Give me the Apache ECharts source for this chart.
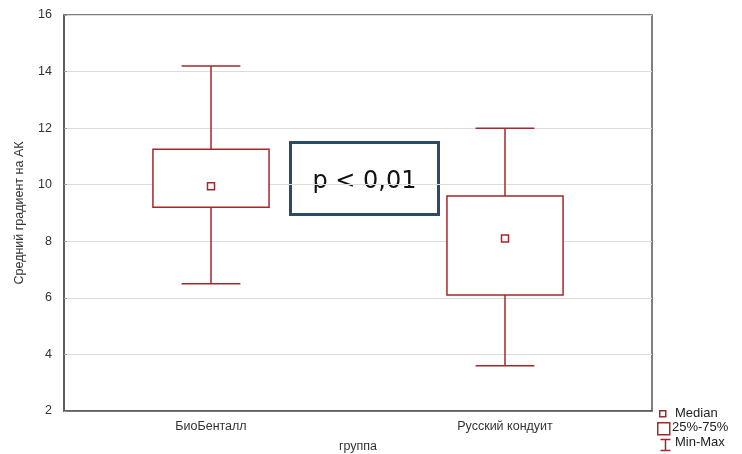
<!DOCTYPE html>
<html><head><meta charset="utf-8">
<script src="https://cdn.jsdelivr.net/npm/echarts@6/dist/echarts.min.js"></script>
<style>html,body{margin:0;padding:0;background:#fff;overflow:hidden}#c{width:742px;height:454px}</style>
</head><body><div id="c"></div>
<script>
const categories = ['БиоБенталл', 'Русский кондуит'];
const minVals = [6.5, 3.6];
const q1Vals = [9.2, 6.1];
const medianVals = [9.95, 8.1];
const q3Vals = [11.25, 9.6];
const maxVals = [14.2, 12.0];
const yTicks = [2, 4, 6, 8, 10, 12, 14, 16];
const pText = 'p < 0,01';
const legendLabels = ['Median', '25%-75%', 'Min-Max'];

const red = '#a3272b';
const boxData = categories.map((c, i) => [i, minVals[i], q1Vals[i], q3Vals[i], maxVals[i]]);

const chart = echarts.init(document.getElementById('c'), null, { width: 742, height: 454 });
chart.setOption({
  animation: false,
  grid: { left: 64, width: 588, top: 15, height: 396, outerBoundsMode: 'none', containLabel: false, show: true, borderColor: '#555', borderWidth: 1.5, backgroundColor: 'transparent' },
  xAxis: {
    type: 'category', data: categories, boundaryGap: true,
    name: 'группа', nameLocation: 'middle', nameGap: 29,
    nameTextStyle: { fontFamily: 'Liberation Sans', fontSize: 12.5, color: '#333' },
    axisLine: { lineStyle: { color: '#555', width: 1.5 } },
    axisTick: { inside: true, alignWithLabel: true, length: 4, lineStyle: { color: '#555' } },
    axisLabel: { fontFamily: 'Liberation Sans', fontSize: 12.5, color: '#333', margin: 9 },
    splitLine: { show: false }
  },
  yAxis: {
    type: 'value', min: yTicks[0], max: yTicks[yTicks.length - 1], interval: 2,
    name: 'Средний градиент на АК', nameLocation: 'middle', nameGap: 38, nameRotate: 90,
    nameTextStyle: { fontFamily: 'Liberation Sans', fontSize: 12.5, color: '#333' },
    axisLine: { show: true, lineStyle: { color: '#555', width: 1.5 } },
    axisTick: { show: true, inside: true, length: 3, lineStyle: { color: '#999' } },
    axisLabel: { fontFamily: 'Liberation Sans', fontSize: 12.5, color: '#333', margin: 12 },
    splitLine: { show: true, lineStyle: { color: '#dcdcdc', width: 1 } }
  },
  series: [
    {
      type: 'custom',
      data: boxData,
      renderItem: function (params, api) {
        const x = api.value(0);
        const pMin = api.coord([x, api.value(1)]);
        const pQ1 = api.coord([x, api.value(2)]);
        const pQ3 = api.coord([x, api.value(3)]);
        const pMax = api.coord([x, api.value(4)]);
        const band = api.size([1, 0])[0];
        const bw = band * 0.395;
        const cw = band * 0.2;
        const cx = pMin[0];
        const ls = { stroke: red, lineWidth: 1.5, fill: null };
        return {
          type: 'group',
          children: [
            { type: 'line', shape: { x1: cx, y1: pMax[1], x2: cx, y2: pQ3[1] }, style: ls },
            { type: 'line', shape: { x1: cx, y1: pQ1[1], x2: cx, y2: pMin[1] }, style: ls },
            { type: 'line', shape: { x1: cx - cw / 2, y1: pMax[1], x2: cx + cw / 2, y2: pMax[1] }, style: ls },
            { type: 'line', shape: { x1: cx - cw / 2, y1: pMin[1], x2: cx + cw / 2, y2: pMin[1] }, style: ls },
            { type: 'rect', shape: { x: cx - bw / 2, y: pQ3[1], width: bw, height: pQ1[1] - pQ3[1] }, style: { stroke: red, lineWidth: 1.5, fill: '#fff' } }
          ]
        };
      },
      z: 2
    },
    {
      type: 'scatter',
      data: categories.map((c, i) => [i, medianVals[i]]),
      symbol: 'rect', symbolSize: 7,
      itemStyle: { color: '#fff', borderColor: red, borderWidth: 1.5, opacity: 1 },
      z: 3
    }
  ],
  graphic: [
    {
      type: 'group', left: 289, top: 141,
      children: [
        { type: 'rect', shape: { x: 0, y: 0, width: 148, height: 72 }, style: { fill: '#fff', stroke: '#2b4a66', lineWidth: 3 } },
        { type: 'text', x: 74, y: 39, style: { text: pText, font: '24px "DejaVu Sans"', fill: '#111', align: 'center', verticalAlign: 'middle' } }
      ]
    },
    { type: 'rect', left: 659, top: 410, shape: { width: 6, height: 6 }, style: { fill: '#fff', stroke: red, lineWidth: 1.5 } },
    { type: 'text', left: 675, top: 407, style: { text: legendLabels[0], font: '13px "Liberation Sans"', fill: '#222' } },
    { type: 'rect', left: 657, top: 422, shape: { width: 12, height: 12 }, style: { fill: '#fff', stroke: red, lineWidth: 1.5 } },
    { type: 'text', left: 672, top: 421, style: { text: legendLabels[1], font: '13px "Liberation Sans"', fill: '#222' } },
    { type: 'group', left: 658, top: 437, children: [
      { type: 'line', shape: { x1: 0, y1: 0, x2: 10, y2: 0 }, style: { stroke: red, lineWidth: 1.5 } },
      { type: 'line', shape: { x1: 5, y1: 0, x2: 5, y2: 11 }, style: { stroke: red, lineWidth: 1.5 } },
      { type: 'line', shape: { x1: 0, y1: 11, x2: 10, y2: 11 }, style: { stroke: red, lineWidth: 1.5 } }
    ] },
    { type: 'text', left: 675, top: 436, style: { text: legendLabels[2], font: '13px "Liberation Sans"', fill: '#222' } }
  ]
});
</script>
</body></html>
